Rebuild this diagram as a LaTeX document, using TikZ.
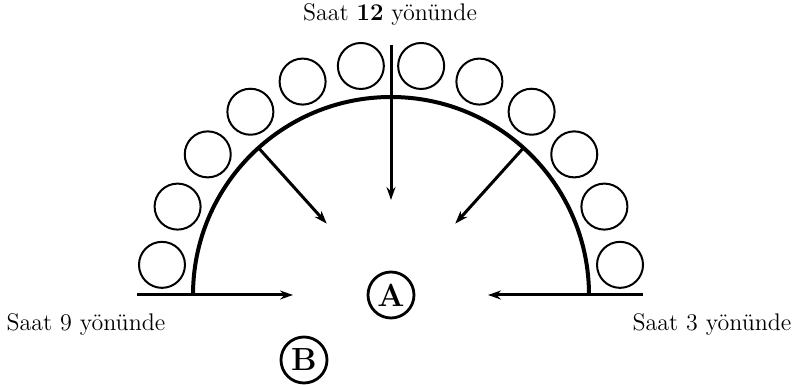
\documentclass[tikz,border=0pt]{standalone}
\usetikzlibrary{arrows.meta}

\begin{document}
\begin{tikzpicture}[x=0.5pt, y=0.5pt,
  rim/.style={line width=2pt},
  ball/.style={draw, circle, line width=1pt, minimum size=23pt, inner sep=0pt},
  arr/.style={-{Stealth[length=6.5pt, width=4.5pt]}, line width=1.5pt},
  ringed/.style={draw, circle, line width=1.4pt, minimum size=23pt, inner sep=0pt,
                 font=\fontsize{16}{18}\selectfont\bfseries},
  lbl/.style={font=\fontsize{12}{14}\selectfont},
]
\useasboundingbox (0,0) rectangle (799,385);
\coordinate (O) at (391,90);

% Half ring
\draw[rim] ([shift={(180:198)}]O) arc[start angle=180, end angle=0, radius=198];

% Balls round the ring
\foreach \a [count=\i] in {7.5,22.5,...,172.5}
  \node[ball] (ball\i) at ([shift={(\a:231)}]O) {};

% Centre and outside point
\node[ringed] (A) at (O) {A};
\node[ringed] (B) at (304,25) {B};

% Direction labels
\node[lbl] (t12) at (390,370) {Saat \textbf{12} yönünde};
\node[lbl] (t9) at (86,60) {Saat 9 yönünde};
\node[lbl] (t3) at (712,60) {Saat 3 yönünde};

% Arrow ends
\coordinate (s9) at ([shift={(180:254)}]O);
\coordinate (e9) at ([shift={(180:98)}]O);
\coordinate (s12) at ([shift={(90:250)}]O);
\coordinate (e12) at ([shift={(90:95)}]O);
\coordinate (s3) at ([shift={(0:252)}]O);
\coordinate (e3) at ([shift={(0:97)}]O);
\coordinate (sl) at ([shift={(132:198)}]O);
\coordinate (el) at ([shift={(132:96)}]O);
\coordinate (sr) at ([shift={(48:198)}]O);
\coordinate (er) at ([shift={(48:96)}]O);

% Arrows
\draw[arr] (s9) -- (e9);
\draw[arr] (s12) -- (e12);
\draw[arr] (s3) -- (e3);
\draw[arr] (sl) -- (el);
\draw[arr] (sr) -- (er);

\end{tikzpicture}
\end{document}
